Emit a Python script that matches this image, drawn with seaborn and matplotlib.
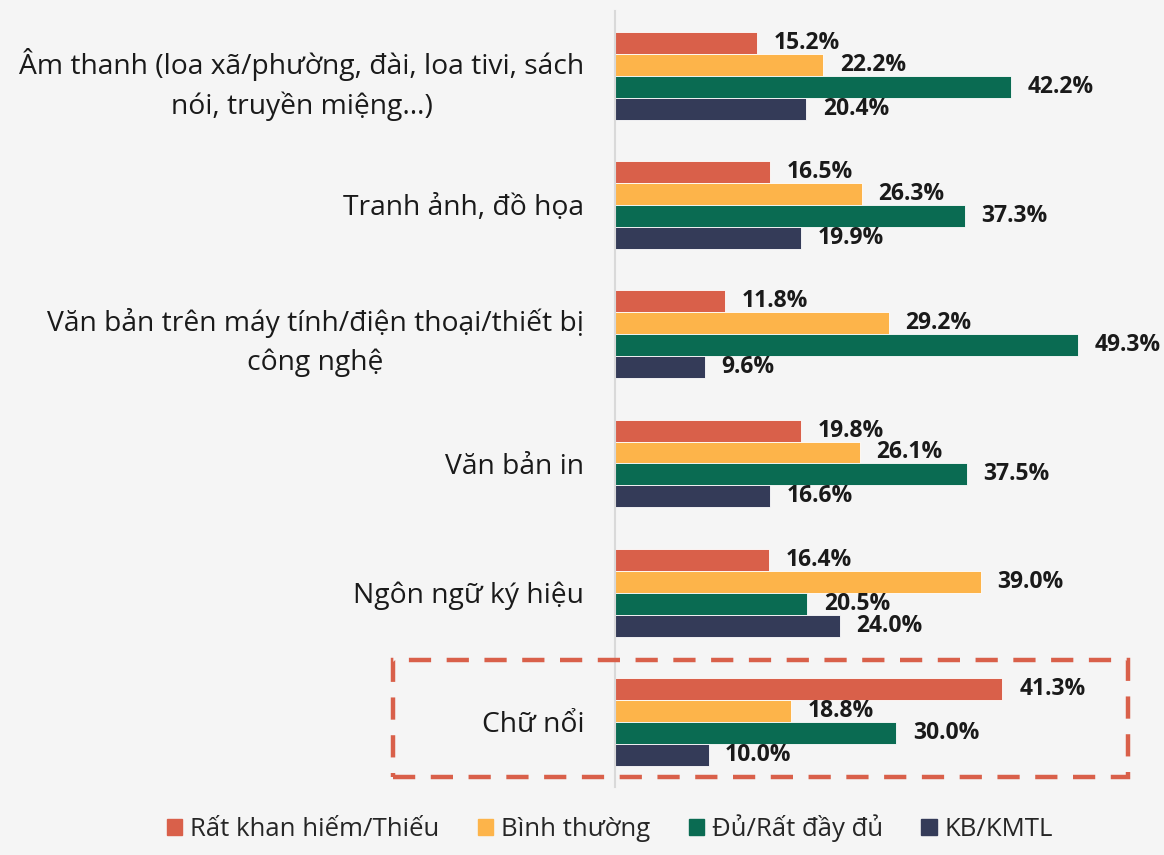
import numpy as np
import pandas as pd
import seaborn as sns
import matplotlib.pyplot as plt
from matplotlib.patches import Rectangle

categories = [
    "Âm thanh (loa xã/phường, đài, loa tivi, sách\nnói, truyền miệng…)",
    "Tranh ảnh, đồ họa",
    "Văn bản trên máy tính/điện thoại/thiết bị\ncông nghệ",
    "Văn bản in",
    "Ngôn ngữ ký hiệu",
    "Chữ nổi",
]
series = ["Rất khan hiếm/Thiếu", "Bình thường", "Đủ/Rất đầy đủ", "KB/KMTL"]
rat_khan_hiem = [15.2, 16.5, 11.8, 19.8, 16.4, 41.3]
binh_thuong = [22.2, 26.3, 29.2, 26.1, 39.0, 18.8]
du_day_du = [42.2, 37.3, 49.3, 37.5, 20.5, 30.0]
kb_kmtl = [20.4, 19.9, 9.6, 16.6, 24.0, 10.0]
colors = ["#D9604A", "#FDB44A", "#0A6B52", "#343B58"]

rows = []
for name, vals in zip(series, [rat_khan_hiem, binh_thuong, du_day_du, kb_kmtl]):
    for cat, v in zip(categories, vals):
        rows.append({"cat": cat, "series": name, "value": v})
df = pd.DataFrame(rows)

sns.set_theme(style="white")
plt.rcParams["font.family"] = ["Open Sans", "DejaVu Sans"]
bg = "#F5F5F5"

fig = plt.figure(figsize=(11.64, 8.55), dpi=100, facecolor=bg)
ax = fig.add_axes([0.528, 0.080, 0.472, 0.907])
ax.set_facecolor(bg)

sns.barplot(
    data=df, y="cat", x="value", hue="series", orient="h",
    order=categories, hue_order=series, palette=colors, saturation=1,
    width=0.68, edgecolor="white", linewidth=0.6, legend=False, ax=ax,
)

for cont in ax.containers:
    ax.bar_label(cont, labels=[f"{v:.1f}%" for v in cont.datavalues],
                 padding=12, fontsize=16.5, fontweight="bold", color="#1A1A1A")

ax.set_xlim(0, 58.5)
ax.set_xlabel("")
ax.set_ylabel("")
ax.set_xticks([])
for s in ["top", "right", "bottom"]:
    ax.spines[s].set_visible(False)
ax.spines["left"].set_color("#D9D9D9")
ax.spines["left"].set_linewidth(1.5)
ax.tick_params(axis="y", length=0, pad=22, labelsize=20.3, labelcolor="#1A1A1A")
for lab in ax.get_yticklabels():
    lab.set_multialignment("center")
    lab.set_linespacing(1.45)

handles = [Rectangle((0, 0), 1, 1, color=c) for c in colors]
fig.legend(handles, series, loc="lower center", bbox_to_anchor=(0.524, -0.012),
           ncol=4, frameon=False, fontsize=18.5, handlelength=0.6, handleheight=0.6,
           handletextpad=0.3, columnspacing=1.5)

box = Rectangle((393 / 1164, 1 - 777 / 855), (1128 - 393) / 1164, (777 - 660) / 855,
                transform=fig.transFigure, fill=False, edgecolor="#D9604A",
                linewidth=3.2, linestyle=(0, (5, 3.5)))
fig.add_artist(box)

fig.savefig("out.png", dpi=100, facecolor=bg)
